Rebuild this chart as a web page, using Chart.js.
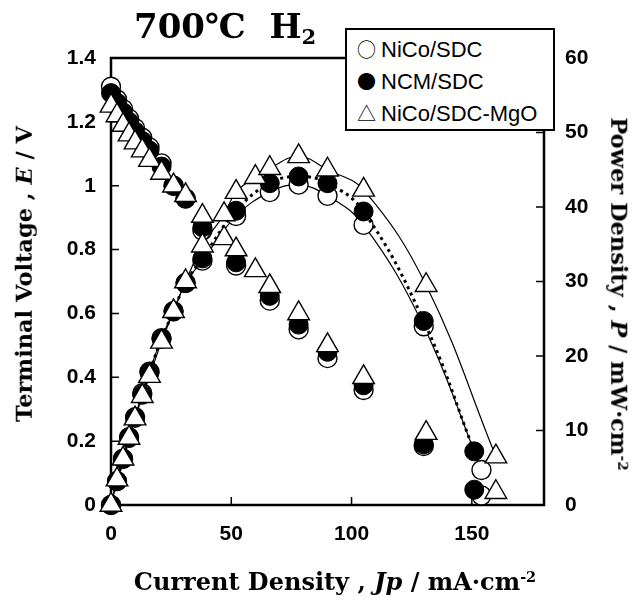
<!DOCTYPE html>
<html><head><meta charset="utf-8">
<script src="https://cdn.jsdelivr.net/npm/chart.js@4.4.1/dist/chart.umd.min.js"></script>
<style>
html,body{margin:0;padding:0;background:#fff;}
#wrap{position:relative;width:633px;height:601px;overflow:hidden;background:#fff;}
#c{position:absolute;left:0;top:0;}
.ser{position:absolute;white-space:nowrap;font-family:'DejaVu Serif','Liberation Serif',serif;font-weight:bold;color:#000;line-height:1;}
.ser i{font-style:italic;}
.ser sup{font-size:0.6em;vertical-align:0.55em;line-height:0;}
#title{left:134px;top:9px;font-size:34px;}
#title sub{font-size:0.62em;vertical-align:-0.3em;line-height:0;}
#ytitle{left:24px;top:274px;font-size:22.5px;transform:translate(-50%,-50%) rotate(-90deg);}
#y2title{left:619px;top:294px;font-size:22.5px;transform:translate(-50%,-50%) rotate(90deg);}
#xtitle{left:335px;top:582px;font-size:24px;transform:translate(-50%,-50%);}
#legend{position:absolute;left:345px;top:28px;width:206px;height:96px;border:2px solid #000;background:#fff;
  font-family:'Liberation Sans',Arial,sans-serif;font-size:22px;color:#000;padding-top:3px;box-sizing:content-box;}
#legend div{height:32px;line-height:32px;padding-left:10px;white-space:nowrap;}
#legend span.g{font-family:'Noto Sans CJK JP','DejaVu Sans',sans-serif;display:inline-block;width:24px;font-size:19px;}
</style></head>
<body>
<div id="wrap">
<canvas id="c" width="633" height="601"></canvas>
<div id="title" class="ser">700℃&nbsp;&nbsp;H<sub>2</sub></div>
<div id="ytitle" class="ser">Terminal Voltage , <i>E</i> / V</div>
<div id="y2title" class="ser">Power Density , <i>P</i> / mW·cm<sup>-2</sup></div>
<div id="xtitle" class="ser">Current Density , <i>Jp</i> / mA·cm<sup>-2</sup></div>
<div id="legend">
  <div><span class="g">○</span>NiCo/SDC</div>
  <div><span class="g">●</span>NCM/SDC</div>
  <div><span class="g">△</span>NiCo/SDC-MgO</div>
</div>
</div>
<script>
// ---- tick values / labels ----
const currentTicks = [0, 50, 100, 150];
const voltageTicks = [0, 0.2, 0.4, 0.6, 0.8, 1.0, 1.2, 1.4];
const voltageTickLabels = ['0', '0.2', '0.4', '0.6', '0.8', '1', '1.2', '1.4'];
const powerTicks = [0, 10, 20, 30, 40, 50, 60];
const powerTickLabels = ['0', '10', '20', '30', '40', '50', '60'];

// ---- series names ----
const seriesNames = ['NiCo/SDC', 'NCM/SDC', 'NiCo/SDC-MgO'];

// ---- NiCo/SDC (open circles) ----
const nicoJ = [0, 2.5, 5, 7.5, 10, 13, 16, 21, 26, 31, 38, 52, 66, 78, 90, 105, 130, 154];
const nicoV = [1.31, 1.27, 1.24, 1.21, 1.18, 1.15, 1.12, 1.07, 1.00, 0.96, 0.86, 0.75, 0.64, 0.55, 0.46, 0.36, 0.185, 0.03];
const nicoP = [0, 3.2, 6.2, 9.1, 11.8, 15.0, 17.9, 22.4, 26.0, 29.8, 32.8, 38.8, 42.0, 43.0, 41.5, 37.6, 24.0, 4.7];

// ---- NCM/SDC (filled circles) ----
const ncmJ = [0, 2.5, 5, 7.5, 10, 13, 16, 21, 26, 31, 38, 52, 66, 78, 90, 105, 130, 151];
const ncmV = [1.29, 1.26, 1.23, 1.20, 1.17, 1.14, 1.11, 1.06, 1.00, 0.96, 0.87, 0.76, 0.655, 0.565, 0.48, 0.375, 0.19, 0.048];
const ncmP = [0, 3.2, 6.2, 9.0, 11.7, 14.8, 17.8, 22.3, 26.0, 29.8, 33.1, 39.5, 43.2, 44.1, 43.2, 39.4, 24.7, 7.2];

// ---- NiCo/SDC-MgO (open triangles) ----
const mgoJ = [0, 2.5, 5, 7.5, 10, 13, 16, 21, 26, 31, 38, 47, 52, 60, 66, 78, 90, 105, 131, 160];
const mgoV = [1.25, 1.22, 1.19, 1.16, 1.135, 1.11, 1.08, 1.04, 1.00, 0.97, 0.905, 0.835, 0.80, 0.735, 0.685, 0.60, 0.50, 0.40, 0.225, 0.04];
const mgoP = [0, 3.4, 6.2, 9.0, 11.6, 14.6, 17.3, 21.9, 26.0, 30.0, 34.8, 39.0, 42.0, 44.0, 45.2, 46.8, 45.0, 42.3, 29.5, 6.5];

const pts = (xs, ys) => xs.map((x, i) => ({x: x, y: ys[i]}));

const tri = {pointStyle: 'triangle', pointRadius: 12.5, pointBackgroundColor: '#fff', pointBorderColor: '#000', pointBorderWidth: 1.4};
const openC = {pointStyle: 'circle', pointRadius: 9.5, pointBackgroundColor: '#fff', pointBorderColor: '#000', pointBorderWidth: 1.4};
const fillC = {pointStyle: 'circle', pointRadius: 9.5, pointBackgroundColor: '#000', pointBorderColor: '#000', pointBorderWidth: 1};

const datasets = [
  Object.assign({label: seriesNames[2] + ' P', data: pts(mgoJ, mgoP), yAxisID: 'yP', showLine: true,
    borderColor: '#000', borderWidth: 1.2, tension: 0.4, order: 0, clip: false}, tri),
  Object.assign({label: seriesNames[2] + ' E', data: pts(mgoJ, mgoV), yAxisID: 'yV', showLine: false, order: 1, clip: false}, tri),
  Object.assign({label: seriesNames[1] + ' P', data: pts(ncmJ, ncmP), yAxisID: 'yP', showLine: true,
    borderColor: '#000', borderWidth: 3, borderDash: [3, 4], tension: 0.4, order: 2, clip: false}, fillC),
  Object.assign({label: seriesNames[1] + ' E', data: pts(ncmJ, ncmV), yAxisID: 'yV', showLine: false, order: 3, clip: false}, fillC),
  Object.assign({label: seriesNames[0] + ' P', data: pts(nicoJ, nicoP), yAxisID: 'yP', showLine: true,
    borderColor: '#000', borderWidth: 1.2, tension: 0.4, order: 4, clip: false}, openC),
  Object.assign({label: seriesNames[0] + ' E', data: pts(nicoJ, nicoV), yAxisID: 'yV', showLine: false, order: 5, clip: false}, openC)
];

const tickFont = {family: "'Liberation Sans', Arial, sans-serif", size: 21, weight: 'bold'};

const frameTicks = {
  id: 'frameTicks',
  beforeDatasetsDraw(chart) {
    const {ctx, chartArea: a, scales} = chart;
    ctx.save();
    ctx.strokeStyle = '#000';
    ctx.lineWidth = 1.5;
    ctx.beginPath();
    const L = 8;
    voltageTicks.forEach(v => {
      const y = scales.yV.getPixelForValue(v);
      if (v > 0 && v < 1.4) { ctx.moveTo(a.left, y); ctx.lineTo(a.left + L, y); }
    });
    powerTicks.forEach(v => {
      const y = scales.yP.getPixelForValue(v);
      if (v > 0 && v < 60) { ctx.moveTo(a.right, y); ctx.lineTo(a.right - L, y); }
    });
    currentTicks.forEach(v => {
      const x = scales.x.getPixelForValue(v);
      if (v > 0) { ctx.moveTo(x, a.bottom); ctx.lineTo(x, a.bottom - L); }
    });
    ctx.stroke();
    ctx.lineWidth = 2.5;
    ctx.strokeRect(a.left, a.top, a.right - a.left, a.bottom - a.top);
    ctx.restore();
  }
};

new Chart(document.getElementById('c'), {
  type: 'scatter',
  data: {datasets: datasets},
  options: {
    responsive: false,
    animation: false,
    devicePixelRatio: 1,
    layout: {padding: {top: 58, left: 0, right: 0, bottom: 0}},
    plugins: {legend: {display: false}, tooltip: {enabled: false}, title: {display: false}},
    scales: {
      x: {
        type: 'linear', position: 'bottom', min: 0, max: 180,
        grid: {display: false, drawTicks: false}, border: {display: false},
        afterBuildTicks: s => { s.ticks = currentTicks.map(v => ({value: v})); },
        afterFit: s => { s.height = 96; },
        ticks: {font: tickFont, color: '#000', padding: 17, maxRotation: 0, callback: v => String(v)}
      },
      yV: {
        type: 'linear', position: 'left', min: 0, max: 1.4,
        grid: {display: false, drawTicks: false}, border: {display: false},
        afterBuildTicks: s => { s.ticks = voltageTicks.map(v => ({value: v})); },
        afterFit: s => { s.width = 111; },
        ticks: {font: tickFont, color: '#000', padding: 15,
          callback: (v) => voltageTickLabels[voltageTicks.findIndex(t => Math.abs(t - v) < 1e-6)]}
      },
      yP: {
        type: 'linear', position: 'right', min: 0, max: 60,
        grid: {display: false, drawTicks: false}, border: {display: false},
        afterBuildTicks: s => { s.ticks = powerTicks.map(v => ({value: v})); },
        afterFit: s => { s.width = 89; },
        ticks: {font: tickFont, color: '#000', padding: 21,
          callback: (v) => powerTickLabels[powerTicks.indexOf(v)]}
      }
    }
  },
  plugins: [frameTicks]
});
</script>
</body></html>
